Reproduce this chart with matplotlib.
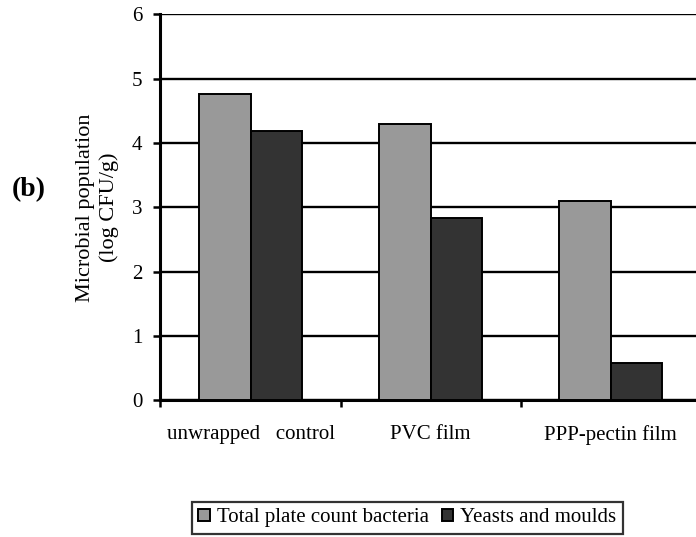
import numpy as np
import matplotlib.pyplot as plt

plt.rcParams['font.family'] = ['Liberation Serif', 'DejaVu Serif']

# data
categories = ['unwrapped   control', 'PVC film', 'PPP-pectin film']
total_plate = [4.77, 4.29, 3.09]
yeasts_moulds = [4.18, 2.83, 0.57]
series_names = ['Total plate count bacteria', 'Yeasts and moulds']

fig = plt.figure(figsize=(6.96, 5.37), dpi=100)
ax = fig.add_axes([0.2306, 0.2551, 0.7759, 0.7179])

x = np.arange(len(categories))
w = 0.286
ax.bar(x - w / 2, total_plate, w, color='#999999', edgecolor='black', linewidth=1.4,
       label=series_names[0], zorder=3)
ax.bar(x + w / 2, yeasts_moulds, w, color='#333333', edgecolor='black', linewidth=1.4,
       label=series_names[1], zorder=3)

ax.set_xlim(-0.5, 2.5)
ax.set_ylim(0, 6)
ax.set_yticks(range(0, 7))
ax.set_xticks([-0.5, 0.5, 1.5, 2.5])
ax.set_xticklabels([])
ax.set_xticks(x, minor=True)
ax.set_xticklabels(categories, minor=True, fontsize=15)
ax.tick_params(axis='x', which='minor', length=0, pad=18)
ax.tick_params(axis='x', which='major', length=5, width=1.8, direction='out')
ax.tick_params(axis='y', length=5, width=1.8, direction='out', labelsize=15, pad=8)

ax.grid(axis='y', color='black', linewidth=1.7, zorder=0)
for s in ['top', 'right']:
    ax.spines[s].set_visible(False)
ax.spines['left'].set_linewidth(2.2)
ax.spines['bottom'].set_linewidth(2.2)

ax.set_ylabel('Microbial population\n(log CFU/g)', fontsize=16, labelpad=9, linespacing=1.3)
fig.text(0.041, 0.647, '(b)', fontsize=20, fontweight='bold', ha='center', va='center')

leg = fig.legend(loc='center', bbox_to_anchor=(0.5855, 0.0354), ncol=2, fontsize=15,
                 frameon=True, fancybox=False, edgecolor='black', handlelength=0.55,
                 handleheight=0.55, handletextpad=0.35, columnspacing=0.6,
                 borderpad=0.3, borderaxespad=0)
leg.get_frame().set_linewidth(1.6)

fig.savefig('out.png', dpi=100)
